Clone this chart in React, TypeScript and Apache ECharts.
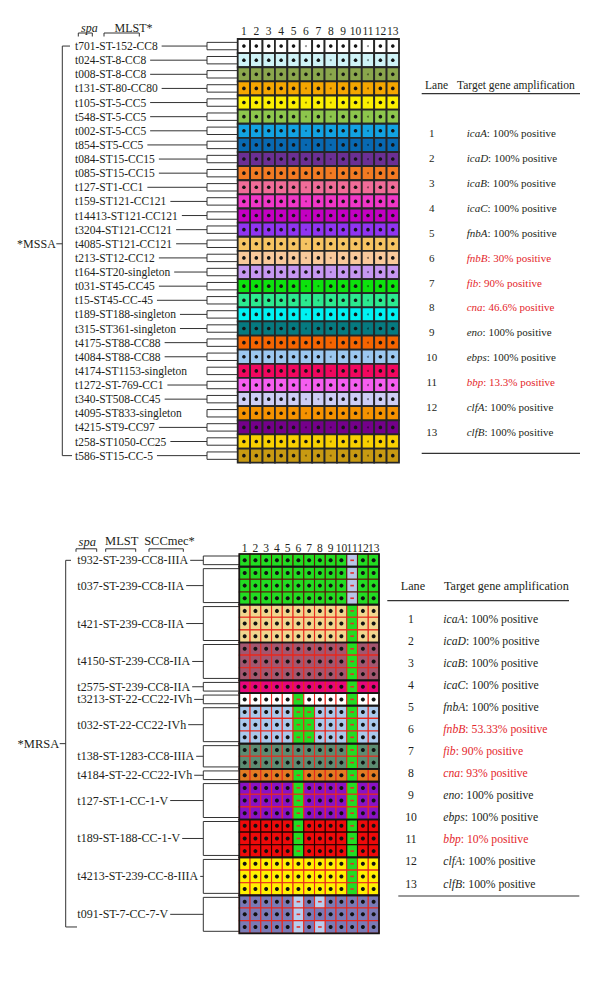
import React, { useEffect, useRef } from 'react';
import * as echarts from 'echarts';

const SERIF = 'Liberation Serif, serif';

// ---------- shared ----------
const lanes = ['1', '2', '3', '4', '5', '6', '7', '8', '9', '10', '11', '12', '13'];
const genes = ['icaA', 'icaD', 'icaB', 'icaC', 'fnbA', 'fnbB', 'fib', 'cna', 'eno', 'ebps', 'bbp', 'clfA', 'clfB'];

// ---------- MSSA ----------
const mssaPositive = ['100%', '100%', '100%', '100%', '100%', '30%', '90%', '46.6%', '100%', '100%', '13.3%', '100%', '100%'];
const mssaStrains = [
  't701-ST-152-CC8', 't024-ST-8-CC8', 't008-ST-8-CC8', 't131-ST-80-CC80', 't105-ST-5-CC5',
  't548-ST-5-CC5', 't002-ST-5-CC5', 't854-ST5-CC5', 't084-ST15-CC15', 't085-ST15-CC15',
  't127-ST1-CC1', 't159-ST121-CC121', 't14413-ST121-CC121', 't3204-ST121-CC121', 't4085-ST121-CC121',
  't213-ST12-CC12', 't164-ST20-singleton', 't031-ST45-CC45', 't15-ST45-CC-45', 't189-ST188-singleton',
  't315-ST361-singleton', 't4175-ST88-CC88', 't4084-ST88-CC88', 't4174-ST1153-singleton', 't1272-ST-769-CC1',
  't340-ST508-CC45', 't4095-ST833-singleton', 't4215-ST9-CC97', 't258-ST1050-CC25', 't586-ST15-CC-5',
];
const mssaColors = [
  '#ffffff', '#cff3f7', '#8aa64c', '#f5a600', '#fbef00',
  '#8dc64c', '#12a2e2', '#0869b2', '#6b2f94', '#f27a22',
  '#f06c98', '#f036c8', '#c400c2', '#9034f2', '#f6c462',
  '#f9c99b', '#c697f2', '#0de20d', '#2ce98f', '#00f2f2',
  '#067a80', '#f56400', '#9cc8f0', '#f1075f', '#f55ef0',
  '#cdcdf5', '#f59200', '#74008a', '#f8d000', '#c89a12',
];
// 1 = positive, for lanes with variable results (other lanes all positive)
const mssaLane6 = [0, 1, 1, 0, 0, 0, 0, 0, 1, 1, 0, 0, 0, 0, 0, 0, 1, 0, 0, 0, 0, 1, 1, 1, 0, 0, 0, 0, 1, 0];
const mssaLane7 = [1, 1, 1, 1, 1, 1, 1, 1, 1, 1, 1, 1, 1, 1, 1, 1, 1, 0, 0, 1, 1, 1, 1, 1, 1, 0, 1, 1, 1, 1];
const mssaLane8 = [1, 0, 0, 0, 0, 0, 1, 0, 0, 0, 1, 1, 1, 1, 1, 0, 0, 1, 1, 1, 1, 0, 0, 0, 1, 1, 1, 0, 0, 0];
const mssaLane11 = [0, 0, 0, 0, 0, 0, 0, 0, 0, 0, 0, 1, 1, 1, 1, 0, 0, 0, 0, 0, 0, 0, 0, 0, 0, 0, 0, 0, 0, 0];
const mssaNoConnector = ['t4174-ST1153-singleton', 't4095-ST833-singleton'];

// ---------- MRSA ----------
const mrsaPositive = ['100%', '100%', '100%', '100%', '100%', '53.33%', '90%', '93%', '100%', '100%', '10%', '100%', '100%'];
const mrsaStrains = [
  't932-ST-239-CC8-IIIA', 't037-ST-239-CC8-IIA', 't421-ST-239-CC8-IIA', 't4150-ST-239-CC8-IIA',
  't2575-ST-239-CC8-IIA', 't3213-ST-22-CC22-IVh', 't032-ST-22-CC22-IVh', 't138-ST-1283-CC8-IIIA',
  't4184-ST-22-CC22-IVh', 't127-ST-1-CC-1-V', 't189-ST-188-CC-1-V', 't4213-ST-239-CC-8-IIIA', 't091-ST-7-CC-7-V',
];
const mrsaIsolates = [1, 3, 3, 3, 1, 1, 3, 2, 1, 3, 3, 3, 3];
const mrsaColors = ['#22dc22', '#22dc22', '#f1d68e', '#a3566f', '#e6067a', '#ffffff', '#a9c8ec', '#5c8c72', '#e27a22', '#8a12c4', '#ee0a0a', '#fff000', '#7a7ab6'];
const mrsaNegColors = ['#b7c6e8', '#b7c6e8', '#22dc22', '#22dc22', '#22dc22', '#22dc22', '#22dc22', '#22dc22', '#22dc22', '#22dc22', '#22dc22', '#22dc22', '#b8cdee'];
const mrsaBorders = ['#5a1808', '#5a1808', '#e8281e', '#e8281e', '#e8281e', '#e8281e', '#e8281e', '#e8281e', '#e8281e', '#e8281e', '#2a0000', '#e8281e', '#e8281e'];
// 1 = positive, per isolate row (30 rows), lanes with variable results
const mrsaLane6 = [1, 1, 1, 1, 1, 1, 1, 1, 1, 1, 1, 0, 0, 0, 0, 1, 1, 0, 0, 0, 0, 0, 0, 0, 1, 1, 1, 0, 0, 0];
const mrsaLane7 = [1, 1, 1, 1, 1, 1, 1, 1, 1, 1, 1, 1, 0, 0, 0, 1, 1, 1, 1, 1, 1, 1, 1, 1, 1, 1, 1, 1, 1, 1];
const mrsaLane8 = [1, 1, 1, 1, 1, 1, 1, 1, 1, 1, 1, 1, 1, 1, 1, 1, 1, 1, 1, 1, 1, 1, 1, 1, 1, 1, 1, 0, 1, 0];
const mrsaLane11 = [0, 0, 0, 0, 0, 0, 0, 0, 0, 0, 0, 0, 0, 0, 0, 0, 0, 0, 0, 0, 0, 0, 0, 0, 0, 0, 0, 1, 1, 1];

const RED = '#e4262b';
const INK = '#231f20';

function buildCells(nRows: number, variable: Record<number, number[]>) {
  const out: number[][] = [];
  for (let r = 0; r < nRows; r++) {
    for (let l = 0; l < lanes.length; l++) {
      const arr = variable[l];
      out.push([l, r, arr ? arr[r] : 1]);
    }
  }
  return out;
}

export default function App() {
  const ref = useRef<HTMLDivElement>(null);

  useEffect(() => {
    const chart = echarts.init(ref.current!, null, { renderer: 'svg' });

    const mssaCells = buildCells(mssaStrains.length, { 5: mssaLane6, 6: mssaLane7, 7: mssaLane8, 10: mssaLane11 });
    const mrsaGroupOf: number[] = [];
    const mrsaStart: number[] = [];
    mrsaIsolates.forEach((n, g) => {
      mrsaStart.push(mrsaGroupOf.length);
      for (let k = 0; k < n; k++) mrsaGroupOf.push(g);
    });
    const mrsaRows = mrsaGroupOf.map((g, i) => `${mrsaStrains[g]} #${i}`);
    const mrsaCells = buildCells(mrsaRows.length, { 5: mrsaLane6, 6: mrsaLane7, 7: mrsaLane8, 10: mrsaLane11 });

    const lineStyle = { stroke: '#333', lineWidth: 1 };

    const xAxisBase = (gridIndex: number, margin: number) => ({
      gridIndex,
      type: 'category',
      data: lanes,
      position: 'top',
      axisLine: { show: false },
      axisTick: { show: false },
      splitLine: { show: false },
      axisLabel: { interval: 0, margin, fontFamily: SERIF, fontSize: 11.5, color: INK },
    });

    const treeSeries = (axis: number, n: number, x: number, tickR: number, tickB: number, labelText: string, labelRow: number) => ({
      type: 'custom',
      xAxisIndex: axis,
      yAxisIndex: axis,
      clip: false,
      silent: true,
      data: [[0, 0]],
      renderItem: (_p: any, api: any) => {
        const yTop = api.coord([0, 0])[1];
        const yBot = api.coord([0, n - 1])[1];
        const lo = Math.floor(labelRow), hi = Math.ceil(labelRow);
        const yMid = (api.coord([0, lo])[1] + api.coord([0, hi])[1]) / 2;
        return {
          type: 'group',
          children: [
            { type: 'polyline', shape: { points: [[tickR, yTop], [x, yTop], [x, yBot], [tickB, yBot]] }, style: { ...lineStyle, fill: null } },
            { type: 'line', shape: { x1: x - 6, y1: yMid, x2: x, y2: yMid }, style: lineStyle },
            {
              type: 'text', x: x - 6.5, y: yMid,
              style: { text: labelText, fontFamily: SERIF, fontSize: axis === 0 ? 12 : 12.5, fill: INK, textAlign: 'right', textVerticalAlign: 'middle' },
            },
          ],
        };
      },
    });

    const option: any = {
      animation: false,
      backgroundColor: '#ffffff',
      grid: [
        { left: 237.7, top: 39, width: 161.3, height: 423.7 },
        { left: 239.3, top: 554, width: 139.7, height: 379.3 },
      ],
      xAxis: [xAxisBase(0, 2), xAxisBase(1, 0.5)],
      yAxis: [
        { gridIndex: 0, type: 'category', data: mssaStrains, inverse: true, show: false },
        { gridIndex: 1, type: 'category', data: mrsaRows, inverse: true, show: false },
      ],
      series: [
        // MSSA tree
        treeSeries(0, mssaStrains.length, 62.3, 70, 72, '*MSSA', 14),
        // MSSA labels + brackets
        {
          type: 'custom', xAxisIndex: 0, yAxisIndex: 0, clip: false, silent: true,
          data: mssaStrains.map((_, i) => [0, i]),
          renderItem: (params: any, api: any) => {
            const i = params.dataIndex;
            const c = api.coord([0, i]);
            const y = c[1];
            const left = c[0] - api.size([1, 1])[0] / 2;
            const h = 3.7;
            const bx = 207;
            const children: any[] = [];
            if (!mssaNoConnector.includes(mssaStrains[i])) {
              children.push({ type: 'line', shape: { x1: 80, y1: y, x2: bx, y2: y }, style: lineStyle });
            }
            children.push({ type: 'polyline', shape: { points: [[left, y - h], [bx, y - h], [bx, y + h], [left, y + h]] }, style: { ...lineStyle, fill: null } });
            children.push({
              type: 'text', x: 75, y,
              style: { text: mssaStrains[i], fontFamily: SERIF, fontSize: 11.5, fill: INK, textAlign: 'left', textVerticalAlign: 'middle', backgroundColor: '#ffffff', padding: [1, 4, 1, 0] },
            });
            return { type: 'group', children };
          },
        },
        // MSSA cells
        {
          type: 'custom', xAxisIndex: 0, yAxisIndex: 0, silent: true,
          data: mssaCells,
          renderItem: (_p: any, api: any) => {
            const l = api.value(0), r = api.value(1), v = api.value(2);
            const c = api.coord([l, r]);
            const s = api.size([1, 1]);
            return {
              type: 'group',
              children: [
                { type: 'rect', shape: { x: c[0] - s[0] / 2, y: c[1] - s[1] / 2, width: s[0], height: s[1] }, style: { fill: mssaColors[r], stroke: '#262626', lineWidth: 1.8 } },
                { type: 'circle', shape: { cx: c[0], cy: c[1], r: v ? 1.8 : 1.0 }, style: { fill: v ? '#141414' : 'rgba(0,0,0,0.45)' } },
              ],
            };
          },
        },
        // MRSA tree
        treeSeries(1, mrsaRows.length, 65.7, 71, 77, '*MRSA', 14.5),
        // MRSA labels + brackets
        {
          type: 'custom', xAxisIndex: 1, yAxisIndex: 1, clip: false, silent: true,
          data: mrsaStrains.map((_, g) => [0, mrsaStart[g], mrsaIsolates[g]]),
          renderItem: (params: any, api: any) => {
            const g = params.dataIndex;
            const start = api.value(1), n = api.value(2);
            const s = api.size([1, 1]);
            const cTop = api.coord([0, start]);
            const cBot = api.coord([0, start + n - 1]);
            const top = cTop[1] - s[1] / 2 + 2;
            const bot = cBot[1] + s[1] / 2 - 2;
            const y = (cTop[1] + cBot[1]) / 2;
            const left = cTop[0] - s[0] / 2;
            const bx = 203.3;
            return {
              type: 'group',
              children: [
                { type: 'line', shape: { x1: 82, y1: y, x2: bx, y2: y }, style: lineStyle },
                { type: 'polyline', shape: { points: [[left, top], [bx, top], [bx, bot], [left, bot]] }, style: { ...lineStyle, fill: null } },
                {
                  type: 'text', x: 77.3, y,
                  style: { text: mrsaStrains[g], fontFamily: SERIF, fontSize: 12, fill: INK, textAlign: 'left', textVerticalAlign: 'middle', backgroundColor: '#ffffff', padding: [1, 2, 1, 0] },
                },
              ],
            };
          },
        },
        // MRSA cells
        {
          type: 'custom', xAxisIndex: 1, yAxisIndex: 1, silent: true,
          data: mrsaCells,
          renderItem: (_p: any, api: any) => {
            const l = api.value(0), r = api.value(1), v = api.value(2);
            const g = mrsaGroupOf[r];
            const c = api.coord([l, r]);
            const s = api.size([1, 1]);
            const mark = v
              ? { type: 'circle', shape: { cx: c[0], cy: c[1], r: 2 }, style: { fill: '#111111' } }
              : { type: 'rect', shape: { x: c[0] - 1.8, y: c[1] - 0.8, width: 3.6, height: 1.6 }, style: { fill: '#e0302a' } };
            return {
              type: 'group',
              children: [
                { type: 'rect', shape: { x: c[0] - s[0] / 2, y: c[1] - s[1] / 2, width: s[0], height: s[1] }, style: { fill: v ? mrsaColors[g] : mrsaNegColors[g], stroke: mrsaBorders[g], lineWidth: 1.1 } },
                mark,
              ],
            };
          },
        },
        // MRSA group outlines
        {
          type: 'custom', xAxisIndex: 1, yAxisIndex: 1, clip: false, silent: true,
          data: mrsaStrains.map((_, g) => [0, mrsaStart[g], mrsaIsolates[g]]),
          renderItem: (_p: any, api: any) => {
            const start = api.value(1), n = api.value(2);
            const s = api.size([1, 1]);
            const a = api.coord([0, start]);
            const b = api.coord([lanes.length - 1, start + n - 1]);
            return {
              type: 'rect',
              shape: { x: a[0] - s[0] / 2, y: a[1] - s[1] / 2, width: b[0] - a[0] + s[0], height: b[1] - a[1] + s[1] },
              style: { fill: null, stroke: '#151515', lineWidth: 1.7 },
            };
          },
        },
      ],
      graphic: [] as any[],
    };

    const gfx = option.graphic;
    const txt = (text: string, x: number, y: number, size: number, align = 'left', extra: any = {}) =>
      gfx.push({ type: 'text', x, y, silent: true, style: { text, fontFamily: SERIF, fontSize: size, fill: INK, textAlign: align, textVerticalAlign: 'middle', ...extra } });
    const hline = (x1: number, x2: number, y: number, w = 1.2) =>
      gfx.push({ type: 'line', silent: true, shape: { x1, y1: y, x2, y2: y }, style: { stroke: '#333', lineWidth: w } });
    const bracket = (x1: number, x2: number, y: number, d: number) =>
      gfx.push({ type: 'polyline', silent: true, shape: { points: [[x1, y + d], [x1, y], [x2, y], [x2, y + d]] }, style: { stroke: '#333', lineWidth: 1, fill: null } });

    // headers above labels
    txt('spa', 89.3, 27.5, 12, 'center', { fontStyle: 'italic' });
    bracket(78.3, 92.3, 33, 3.5);
    txt('MLST*', 133.5, 28.3, 12, 'center');
    bracket(104, 139.3, 33, 3.5);

    txt('spa', 87.3, 541.5, 12.5, 'center', { fontStyle: 'italic' });
    bracket(76, 96.7, 548.8, 3);
    txt('MLST', 121.7, 541, 12.5, 'center');
    bracket(105.7, 135.7, 548.8, 3);
    txt('SCCmec*', 169.5, 540.5, 12.5, 'center');
    bracket(149, 183.3, 548.8, 3);

    // tables
    const table = (pcts: string[], o: any) => {
      txt('Lane', o.laneX, o.headY, o.headSize);
      txt('Target gene amplification', o.targetX, o.headY, o.headSize);
      hline(o.lineX1, o.lineX2, o.ruleY);
      genes.forEach((gname, i) => {
        const y = o.rowY + i * o.step;
        const color = pcts[i] === '100%' ? INK : RED;
        txt(lanes[i], o.numX, y, o.size, 'center');
        gfx.push({
          type: 'text', x: o.geneX, y, silent: true,
          style: {
            text: `{g|${gname}}: ${pcts[i]} positive`,
            fontFamily: SERIF, fontSize: o.size, fill: color, textAlign: 'left', textVerticalAlign: 'middle',
            rich: { g: { fontFamily: SERIF, fontSize: o.size, fontStyle: 'italic', fill: color } },
          },
        });
      });
      hline(o.endX1, o.endX2, o.endY);
    };
    table(mssaPositive, { laneX: 425, targetX: 457, headY: 85, headSize: 11.5, lineX1: 421.7, lineX2: 580, ruleY: 93.7, rowY: 132.7, step: 24.97, numX: 431.7, geneX: 466.7, size: 11, endX1: 421.7, endX2: 580, endY: 453.3 });
    table(mrsaPositive, { laneX: 400.7, targetX: 444, headY: 585.7, headSize: 12.2, lineX1: 387.3, lineX2: 569, ruleY: 600.7, rowY: 619.3, step: 22.06, numX: 411, geneX: 443.3, size: 11.7, endX1: 398.3, endX2: 579.3, endY: 896 });

    chart.setOption(option);
    return () => chart.dispose();
  }, []);

  return <div ref={ref} style={{ position: 'absolute', left: 0, top: 0, width: 600, height: 984, background: '#ffffff' }} />;
}
